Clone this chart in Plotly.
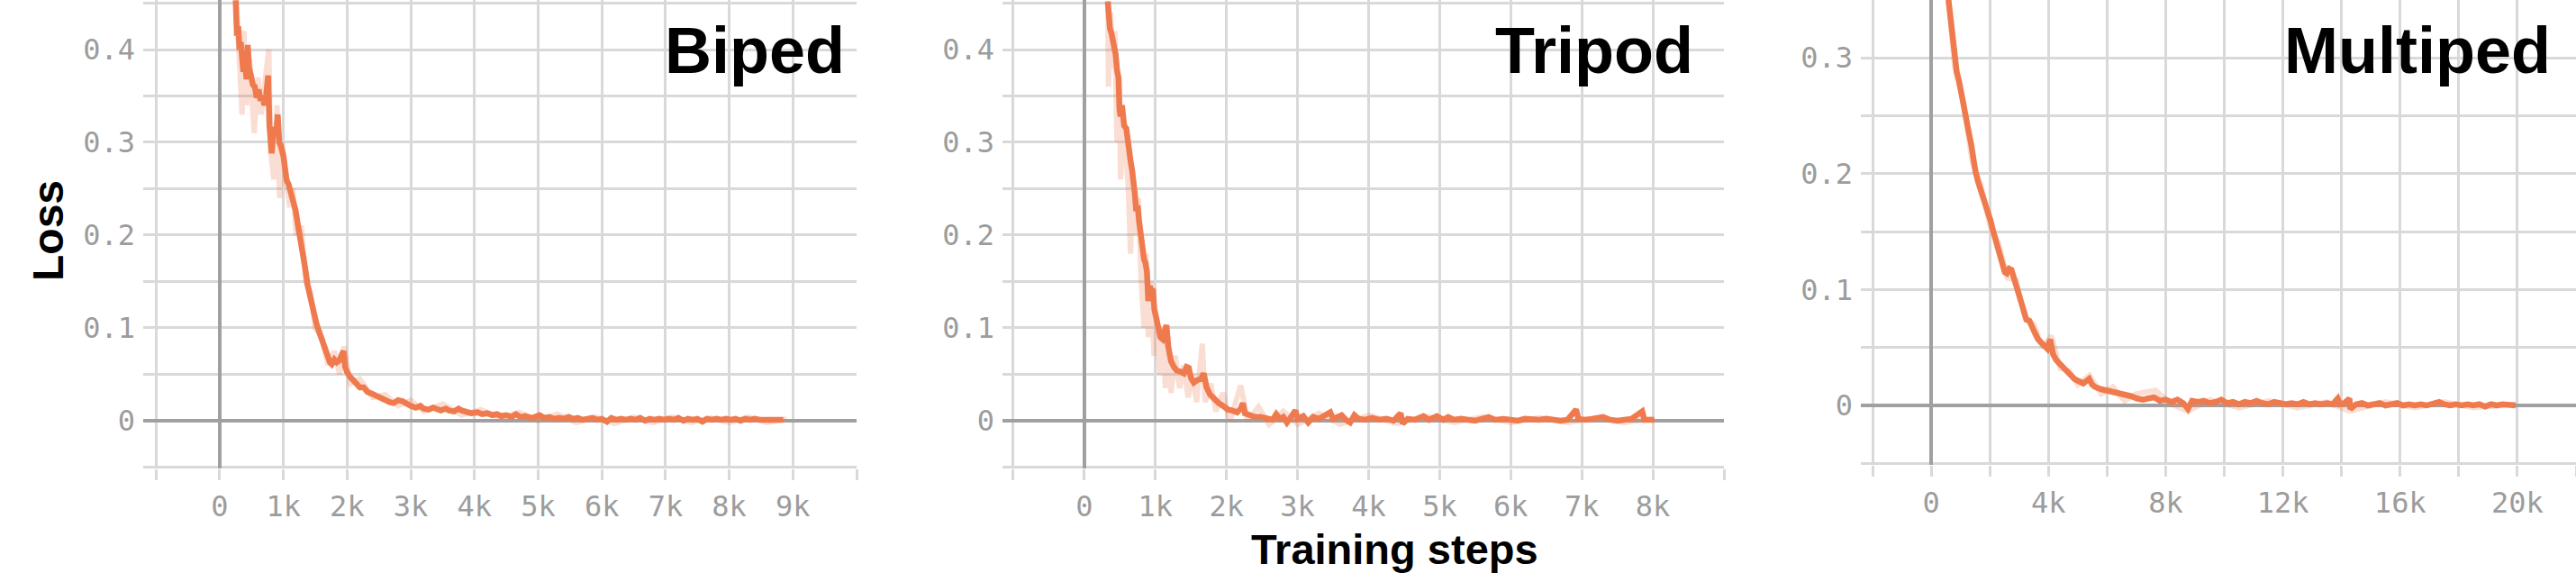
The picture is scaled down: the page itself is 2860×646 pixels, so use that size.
import plotly.graph_objects as go

# ---- Biped run (steps, smoothed loss) ----
biped_steps = [250, 270, 290, 310, 330, 350, 370, 390, 420, 440, 460, 490, 520, 550, 580, 610, 640, 670,
               700, 730, 760, 780, 800, 815, 840, 865, 890, 910, 935, 960, 1000, 1030, 1050, 1080, 1120,
               1160, 1190, 1220, 1240, 1270, 1310, 1340, 1380, 1410, 1450, 1490, 1520, 1570, 1620, 1660,
               1690, 1730, 1760, 1800, 1840, 1880, 1920, 1945, 1970, 2000, 2050, 2110, 2160, 2200, 2260,
               2320, 2390, 2450, 2530, 2600, 2670, 2730, 2800, 2870, 2950, 3000, 3080, 3150, 3200, 3280,
               3350, 3400, 3470, 3550, 3600, 3680, 3750, 3800, 3880, 3950, 4050, 4120, 4200, 4280, 4350,
               4420, 4500, 4580, 4650, 4720, 4800, 4880, 4950, 5020, 5100, 5180, 5250, 5330, 5400, 5480,
               5550, 5620, 5700, 5780, 5850, 5930, 6000, 6080, 6150, 6230, 6300, 6380, 6450, 6530, 6600,
               6680, 6750, 6830, 6900, 6980, 7050, 7130, 7200, 7280, 7350, 7430, 7500, 7580, 7650, 7730,
               7800, 7880, 7950, 8030, 8100, 8180, 8250, 8330, 8400, 8480, 8550, 8630, 8700, 8780, 8850, 8930]
biped_loss = [0.453, 0.415, 0.425, 0.400, 0.408, 0.380, 0.376, 0.392, 0.368, 0.405, 0.380, 0.372, 0.362,
              0.360, 0.348, 0.357, 0.345, 0.350, 0.340, 0.352, 0.372, 0.318, 0.300, 0.288, 0.310, 0.316,
              0.312, 0.330, 0.300, 0.296, 0.285, 0.268, 0.259, 0.255, 0.246, 0.236, 0.227, 0.214, 0.207,
              0.195, 0.178, 0.165, 0.146, 0.136, 0.123, 0.113, 0.104, 0.094, 0.084, 0.074, 0.068, 0.063,
              0.061, 0.066, 0.063, 0.065, 0.072, 0.075, 0.058, 0.052, 0.047, 0.042, 0.039, 0.036, 0.036,
              0.031, 0.029, 0.027, 0.023, 0.022, 0.020, 0.019, 0.022, 0.021, 0.017, 0.016, 0.014, 0.016,
              0.013, 0.012, 0.014, 0.012, 0.011, 0.013, 0.011, 0.010, 0.013, 0.011, 0.010, 0.008, 0.009,
              0.007, 0.008, 0.006, 0.007, 0.005, 0.006, 0.004, 0.007, 0.004, 0.005, 0.003, 0.004, 0.006,
              0.003, 0.004, 0.002, 0.003, 0.002, 0.004, 0.002, 0.003, 0.001, 0.002, 0.003, 0.001, 0.002,
              -0.001, 0.003, 0.001, 0.002, 0.001, 0.002, 0.001, 0.003, 0.000, 0.002, 0.001, 0.002, 0.001,
              0.002, 0.001, 0.003, 0.000, 0.002, 0.001, 0.002, -0.001, 0.002, 0.001, 0.002, 0.001, 0.002,
              0.001, 0.002, 0.000, 0.002, 0.001, 0.002, 0.001, 0.001, 0.002, 0.001, 0.002, 0.001]
biped_raw_steps = [260, 300, 330, 350, 380, 420, 470, 500, 540, 600, 650, 700, 770, 800, 850, 900, 940,
                   980, 1020, 1060, 1100, 1150, 1200, 1280, 1350, 1420, 1500, 1600, 1700, 1800, 1880, 1950,
                   2050, 2200, 2400, 2600, 2800, 3000, 3200, 3500, 3800, 4100, 4400, 4700, 5000, 5300,
                   5600, 5900, 6200, 6500, 6800, 7100, 7400, 7700, 8000, 8300, 8600, 8900]
biped_raw_loss = [0.455, 0.395, 0.350, 0.330, 0.420, 0.340, 0.390, 0.350, 0.310, 0.370, 0.330, 0.360,
                  0.400, 0.290, 0.260, 0.340, 0.240, 0.300, 0.270, 0.250, 0.230, 0.250, 0.200, 0.210,
                  0.150, 0.140, 0.100, 0.090, 0.060, 0.075, 0.050, 0.080, 0.040, 0.045, 0.025, 0.028,
                  0.016, 0.022, 0.010, 0.018, 0.006, 0.012, 0.003, 0.009, 0.000, 0.007, -0.002, 0.004,
                  -0.003, 0.004, -0.002, 0.004, -0.002, 0.003, -0.002, 0.004, -0.002, 0.002]

# ---- Tripod run ----
tripod_steps = [330, 345, 360, 380, 400, 420, 440, 460, 480, 495, 510, 530, 560, 590, 610, 630, 650, 670,
                690, 710, 730, 750, 770, 790, 810, 840, 860, 880, 900, 920, 945, 965, 985, 1010, 1040, 1070,
                1100, 1130, 1155, 1180, 1220, 1260, 1300, 1350, 1400, 1440, 1470, 1500, 1540, 1590, 1640,
                1680, 1720, 1770, 1820, 1890, 1950, 2020, 2080, 2150, 2200, 2230, 2260, 2320, 2400, 2480,
                2550, 2650, 2700, 2750, 2800, 2850, 2900, 2970, 3000, 3080, 3150, 3220, 3300, 3380, 3460,
                3500, 3560, 3620, 3680, 3740, 3800, 3860, 3950, 4050, 4150, 4250, 4350, 4450, 4480, 4550,
                4650, 4770, 4850, 4960, 5050, 5120, 5200, 5300, 5400, 5500, 5600, 5690, 5780, 5900, 6000,
                6100, 6200, 6300, 6400, 6500, 6600, 6700, 6800, 6920, 6950, 7050, 7150, 7300, 7400, 7500,
                7600, 7700, 7850, 7880, 7950, 8020]
tripod_loss = [0.452, 0.430, 0.423, 0.418, 0.410, 0.405, 0.395, 0.378, 0.370, 0.335, 0.328, 0.340, 0.318,
               0.315, 0.298, 0.290, 0.280, 0.271, 0.262, 0.245, 0.226, 0.232, 0.215, 0.200, 0.188, 0.174,
               0.170, 0.161, 0.129, 0.145, 0.140, 0.142, 0.120, 0.112, 0.100, 0.090, 0.088, 0.098, 0.103,
               0.080, 0.064, 0.058, 0.054, 0.053, 0.051, 0.058, 0.057, 0.046, 0.041, 0.044, 0.045, 0.051,
               0.036, 0.028, 0.024, 0.019, 0.016, 0.012, 0.011, 0.009, 0.013, 0.019, 0.008, 0.006, 0.004,
               0.004, 0.003, 0.001, 0.007, 0.002, 0.004, -0.002, 0.003, 0.011, 0.002, 0.005, -0.002, 0.004,
               0.002, 0.005, 0.009, 0.002, 0.004, 0.006, 0.001, -0.002, 0.006, 0.002, 0.001, 0.003, 0.001,
               0.002, 0.000, 0.008, -0.003, 0.002, 0.001, 0.005, 0.001, 0.005, 0.001, 0.004, 0.001, 0.002,
               0.001, 0.000, 0.002, 0.004, 0.001, 0.002, 0.001, 0.000, 0.002, 0.001, 0.001, 0.002, 0.001,
               0.000, 0.001, 0.012, 0.002, 0.001, 0.002, 0.004, 0.001, 0.000, 0.001, 0.002, 0.010, 0.001,
               0.001, 0.001]
tripod_raw_steps = [330, 340, 370, 400, 430, 460, 490, 510, 540, 580, 620, 650, 680, 720, 760, 800, 840,
                    870, 900, 940, 980, 1020, 1060, 1100, 1140, 1180, 1220, 1280, 1340, 1400, 1460, 1520,
                    1580, 1660, 1700, 1780, 1850, 1950, 2050, 2200, 2300, 2450, 2600, 2800, 3000, 3300,
                    3600, 4000, 4400, 4800, 5200, 5600, 6000, 6400, 6800, 7200, 7600, 8000]
tripod_raw_loss = [0.450, 0.360, 0.440, 0.380, 0.420, 0.300, 0.370, 0.260, 0.330, 0.290, 0.250, 0.180,
                   0.270, 0.200, 0.240, 0.150, 0.100, 0.180, 0.090, 0.150, 0.070, 0.110, 0.050, 0.100,
                   0.035, 0.090, 0.030, 0.070, 0.035, 0.060, 0.025, 0.050, 0.020, 0.083, 0.020, 0.040,
                   0.010, 0.030, 0.000, 0.038, 0.000, 0.015, -0.004, 0.010, -0.004, 0.008, -0.004, 0.006,
                   -0.003, 0.005, -0.002, 0.004, -0.002, 0.003, -0.002, 0.003, -0.002, 0.002]

# ---- Multiped run ----
multiped_steps = [590, 650, 690, 740, 800, 870, 950, 1020, 1100, 1150, 1210, 1280, 1360, 1430, 1510, 1600,
                  1720, 1820, 1920, 2020, 2120, 2200, 2280, 2350, 2430, 2510, 2580, 2660, 2740, 2840, 2940,
                  3040, 3140, 3250, 3350, 3450, 3550, 3650, 3760, 3860, 3960, 4060, 4160, 4270, 4420, 4570,
                  4730, 4880, 5030, 5190, 5290, 5390, 5490, 5590, 5800, 6000, 6200, 6410, 6600, 6820, 7020,
                  7230, 7400, 7600, 7800, 8000, 8200, 8400, 8600, 8760, 8900, 9100, 9300, 9500, 9700, 9900,
                  10100, 10300, 10500, 10700, 10900, 11100, 11300, 11500, 11700, 11900, 12100, 12300, 12500,
                  12700, 12900, 13100, 13300, 13500, 13700, 13870, 13950, 14100, 14270, 14300, 14500, 14700,
                  14900, 15100, 15300, 15500, 15700, 15900, 16100, 16300, 16500, 16700, 16900, 17100, 17330,
                  17500, 17700, 17900, 18100, 18300, 18500, 18700, 18900, 19100, 19300, 19500, 19700, 19940]
multiped_loss = [0.350, 0.335, 0.324, 0.310, 0.298, 0.288, 0.280, 0.270, 0.257, 0.248, 0.241, 0.236, 0.226,
                 0.213, 0.202, 0.193, 0.184, 0.176, 0.169, 0.160, 0.150, 0.142, 0.135, 0.126, 0.119, 0.115,
                 0.114, 0.118, 0.117, 0.108, 0.099, 0.090, 0.080, 0.074, 0.073, 0.066, 0.062, 0.057, 0.054,
                 0.051, 0.049, 0.057, 0.044, 0.039, 0.035, 0.031, 0.027, 0.023, 0.021, 0.019, 0.021, 0.023,
                 0.018, 0.016, 0.014, 0.013, 0.012, 0.010, 0.009, 0.008, 0.006, 0.005, 0.006, 0.007, 0.004,
                 0.005, 0.003, 0.005, 0.002, -0.003, 0.004, 0.003, 0.004, 0.002, 0.003, 0.005, 0.002, 0.003,
                 0.001, 0.003, 0.002, 0.004, 0.002, 0.001, 0.003, 0.002, 0.001, 0.002, 0.001, 0.003, 0.001,
                 0.002, 0.001, 0.002, 0.001, 0.006, 0.001, 0.002, 0.006, -0.003, 0.001, 0.002, 0.000, 0.001,
                 0.002, 0.000, 0.001, 0.002, 0.000, 0.001, 0.000, 0.001, 0.000, 0.001, 0.003, 0.001, 0.000,
                 0.001, 0.000, 0.001, 0.000, 0.001, -0.001, 0.001, 0.000, 0.001, 0.000, 0.000]
multiped_raw_steps = [590, 800, 1100, 1400, 1700, 2000, 2300, 2600, 2900, 3200, 3500, 3800, 4100, 4400,
                      4700, 5000, 5400, 5800, 6200, 6600, 7000, 7650, 8200, 8760, 9500, 10500, 11500,
                      12500, 13500, 14270, 15500, 16500, 17500, 18500, 19940]
multiped_raw_loss = [0.350, 0.292, 0.262, 0.210, 0.190, 0.155, 0.140, 0.110, 0.108, 0.075, 0.070, 0.050,
                     0.060, 0.032, 0.030, 0.018, 0.026, 0.010, 0.016, 0.004, 0.010, 0.013, 0.001, -0.005,
                     0.005, -0.002, 0.004, -0.002, 0.003, -0.005, 0.003, -0.002, 0.003, -0.002, 0.001]

# ---- axis ticks ----
loss_ticks_big = [-0.05, 0, 0.05, 0.1, 0.15, 0.2, 0.25, 0.3, 0.35, 0.4, 0.45]
loss_labels_big = ["", "0", "", "0.1", "", "0.2", "", "0.3", "", "0.4", ""]
loss_ticks_small = [-0.05, 0, 0.05, 0.1, 0.15, 0.2, 0.25, 0.3, 0.35]
loss_labels_small = ["", "0", "", "0.1", "", "0.2", "", "0.3", ""]
biped_xticks = [-1000, 0, 1000, 2000, 3000, 4000, 5000, 6000, 7000, 8000, 9000, 10000]
biped_xlabels = ["", "0", "1k", "2k", "3k", "4k", "5k", "6k", "7k", "8k", "9k", ""]
tripod_xticks = [-1000, 0, 1000, 2000, 3000, 4000, 5000, 6000, 7000, 8000, 9000]
tripod_xlabels = ["", "0", "1k", "2k", "3k", "4k", "5k", "6k", "7k", "8k", ""]
multiped_xticks = [-2000, 0, 2000, 4000, 6000, 8000, 10000, 12000, 14000, 16000, 18000, 20000, 22000]
multiped_xlabels = ["", "0", "", "4k", "", "8k", "", "12k", "", "16k", "", "20k", ""]

panel_names = ["Biped", "Tripod", "Multiped"]

W, H = 2860, 646
LINE = "#ef7a4e"
RAW = "rgba(239,122,78,0.25)"
GRID = "#d9d9d9"
ZERO = "#a0a0a0"
TICKFONT = dict(family="DejaVu Sans Mono", size=32, color="#9c9c9c")


def px_x(p):
    return p / W


def px_y(p):
    return 1 - p / H


fig = go.Figure()

runs = [
    (biped_steps, biped_loss, biped_raw_steps, biped_raw_loss),
    (tripod_steps, tripod_loss, tripod_raw_steps, tripod_raw_loss),
    (multiped_steps, multiped_loss, multiped_raw_steps, multiped_raw_loss),
]
for i, (s, l, rs, rl) in enumerate(runs):
    ax = "" if i == 0 else str(i + 1)
    # faint raw values behind, smoothed curve on top
    fig.add_trace(go.Scatter(x=rs, y=rl, mode="lines", line=dict(color=RAW, width=6),
                             xaxis="x" + ax, yaxis="y" + ax, showlegend=False, hoverinfo="skip"))
    fig.add_trace(go.Scatter(x=s, y=l, mode="lines", line=dict(color=LINE, width=6.5),
                             xaxis="x" + ax, yaxis="y" + ax, showlegend=False, name=panel_names[i]))

# pixel layout of each panel: left, right, bottom
panels = [
    dict(left=159, right=951, bottom=520, xr=[-1202, 10000], yr=[-0.0515, 0.4534],
         xt=biped_xticks, xl=biped_xlabels, yt=loss_ticks_big, yl=loss_labels_big),
    dict(left=1113, right=1914, bottom=520, xr=[-1152, 9000], yr=[-0.0515, 0.4534],
         xt=tripod_xticks, xl=tripod_xlabels, yt=loss_ticks_big, yl=loss_labels_big),
    dict(left=2066, right=2860, bottom=516, xr=[-2400, 22000], yr=[-0.0513, 0.3499],
         xt=multiped_xticks, xl=multiped_xlabels, yt=loss_ticks_small, yl=loss_labels_small),
]

layout = dict(
    width=W, height=H,
    margin=dict(l=0, r=0, t=0, b=0),
    paper_bgcolor="white", plot_bgcolor="white",
    showlegend=False,
)
for i, p in enumerate(panels):
    ax = "" if i == 0 else str(i + 1)
    layout["xaxis" + ax] = dict(
        domain=[px_x(p["left"]), px_x(p["right"])], range=p["xr"], anchor="y" + ax,
        tickvals=p["xt"], ticktext=p["xl"], tickfont=TICKFONT,
        showgrid=True, gridcolor=GRID, gridwidth=2.5,
        zeroline=True, zerolinecolor=ZERO, zerolinewidth=3.5,
        ticks="outside", ticklen=12, tickwidth=2.5, tickcolor=GRID,
        ticklabelstandoff=2, showline=False, fixedrange=True,
    )
    layout["yaxis" + ax] = dict(
        domain=[px_y(p["bottom"]), 1], range=p["yr"], anchor="x" + ax,
        tickvals=p["yt"], ticktext=p["yl"], tickfont=TICKFONT,
        showgrid=True, gridcolor=GRID, gridwidth=3,
        zeroline=True, zerolinecolor=ZERO, zerolinewidth=4,
        ticks="", ticklabelstandoff=8, showline=False, fixedrange=True,
    )
fig.update_layout(**layout)

# panel titles
label_right = [940, 1882, 2834]
for name, xr in zip(panel_names, label_right):
    fig.add_annotation(x=px_x(xr), y=px_y(56), xref="paper", yref="paper",
                       xanchor="right", yanchor="middle", showarrow=False,
                       text="<b>" + name + "</b>",
                       font=dict(family="Liberation Sans", size=72, color="black"))

fig.add_annotation(x=px_x(53), y=px_y(256), xref="paper", yref="paper",
                   xanchor="center", yanchor="middle", showarrow=False, textangle=-90,
                   text="<b>Loss</b>", font=dict(family="Liberation Sans", size=48, color="black"))
fig.add_annotation(x=px_x(1548), y=px_y(609), xref="paper", yref="paper",
                   xanchor="center", yanchor="middle", showarrow=False,
                   text="<b>Training steps</b>", font=dict(family="Liberation Sans", size=47, color="black"))

# the page body has a default 8px margin; drop it so the figure sits at the window corner
fig.write_html("out.html", config={"displayModeBar": False},
               post_script="document.body.style.margin='0';")
